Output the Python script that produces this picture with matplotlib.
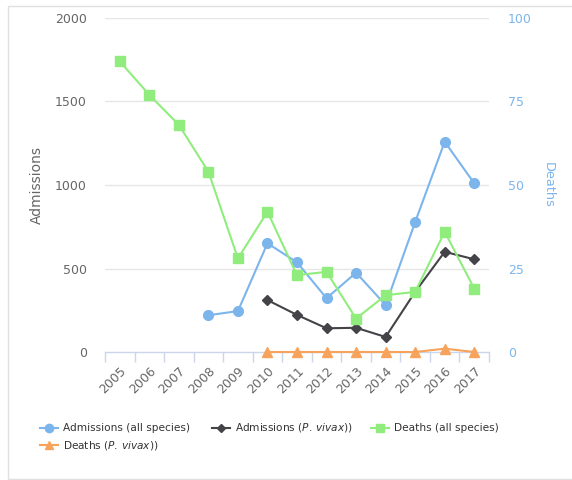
import matplotlib
matplotlib.use("Agg")
import matplotlib.pyplot as plt
from matplotlib.lines import Line2D
from matplotlib.patches import Rectangle
import numpy as np

plt.rcParams['font.family'] = ['DejaVu Sans']
plt.rcParams['mathtext.fontset'] = 'custom'
plt.rcParams['mathtext.rm'] = 'DejaVu Sans'
plt.rcParams['mathtext.it'] = 'DejaVu Sans:italic'

years = ['2005', '2006', '2007', '2008', '2009', '2010', '2011', '2012',
         '2013', '2014', '2015', '2016', '2017']
adm_all = [None, None, None, 220, 245, 651, 537, 322, 475, 281, 778, 1259, 1010]
adm_vivax = [None, None, None, None, None, 311, 222, 142, 145, 90, 360, 600, 555]
deaths_all = [87, 77, 68, 54, 28, 42, 23, 24, 10, 17, 18, 36, 19]
deaths_vivax = [None, None, None, None, None, 0, 0, 0, 0, 0, 0, 1, 0]

left_ticks = [0, 500, 1000, 1500, 2000]
right_ticks = [0, 25, 50, 75, 100]

C_BLUE = '#7cb5ec'
C_BLACK = '#434348'
C_GREEN = '#90ed7d'
C_ORANGE = '#f7a35c'
TXT = '#666666'

def arr(v):
    return np.array([np.nan if x is None else x for x in v], dtype=float)

W, H = 572, 480
fig = plt.figure(figsize=(W / 100, H / 100), dpi=100)
L, R, T, B = 105, 489, 18, 352
ax = fig.add_axes([L / W, 1 - B / H, (R - L) / W, (B - T) / H])
ax2 = ax.twinx()

x = np.arange(len(years))
lw = 1.5
ax.plot(x, arr(adm_all), color=C_BLUE, lw=lw, marker='o', ms=7, zorder=3, clip_on=False)
ax.plot(x, arr(adm_vivax), color=C_BLACK, lw=lw, marker='D', ms=5, zorder=4, clip_on=False)
ax2.plot(x, arr(deaths_all), color=C_GREEN, lw=lw, marker='s', ms=7, zorder=3, clip_on=False)
ax2.plot(x, arr(deaths_vivax), color=C_ORANGE, lw=lw, marker='^', ms=7, zorder=4, clip_on=False)

ax.set_xlim(-0.5, len(years) - 0.5)
ax.set_ylim(0, 2000)
ax2.set_ylim(0, 100)
ax.set_yticks(left_ticks)
ax2.set_yticks(right_ticks)
ax.set_yticklabels([str(t) for t in left_ticks], color=TXT, fontsize=9)
ax2.set_yticklabels([str(t) for t in right_ticks], color=C_BLUE, fontsize=9)
ax.tick_params(axis='y', length=0, pad=13)
ax2.tick_params(axis='y', length=0, pad=13.5)

for t in left_ticks[1:]:
    ax.axhline(t, color='#e6e6e6', lw=1, zorder=0)

for a in (ax, ax2):
    for s in a.spines.values():
        s.set_visible(False)
ax.spines['bottom'].set_visible(True)
ax.spines['bottom'].set_color('#ccd6eb')
ax.spines['bottom'].set_linewidth(1)

ax.set_xticks(x)
ax.set_xticklabels(years, rotation=45, ha='right', va='top',
                   rotation_mode='anchor', color=TXT, fontsize=9)
ax.set_xticks(np.arange(-0.5, len(years)), minor=True)
ax.tick_params(axis='x', which='major', length=0, pad=9)
ax.tick_params(axis='x', which='minor', length=7, color='#ccd6eb', width=1)

fig.text(37 / W, 1 - 185 / H, 'Admissions', rotation=90, ha='center', va='center',
         color=TXT, fontsize=10)
fig.text(548 / W, 1 - 184.5 / H, 'Deaths', rotation=270, ha='center', va='center',
         color=C_BLUE, fontsize=9.3)

# legend
items = [
    (C_BLUE, 'o', 6, 'Admissions (all species)', 40, 428),
    (C_BLACK, 'D', 4.5, r'Admissions ($\mathit{P.\,vivax}$))', 212, 428),
    (C_GREEN, 's', 6, 'Deaths (all species)', 371, 428),
    (C_ORANGE, '^', 6, r'Deaths ($\mathit{P.\,vivax}$))', 40, 445),
]
for col, mk, ms, lab, px, py in items:
    yy = 1 - py / H
    fig.add_artist(Line2D([px / W, (px + 18) / W], [yy, yy], color=col, lw=1.5,
                          transform=fig.transFigure))
    fig.add_artist(Line2D([(px + 9) / W], [yy], color=col, marker=mk, ms=ms,
                          transform=fig.transFigure))
    fig.text((px + 23) / W, yy, lab, ha='left', va='center', color='#333333',
             fontsize=7.6)

fig.add_artist(Rectangle((8 / W, 1 / H), (W - 8) / W + 0.01, (H - 6.5) / H,
                         transform=fig.transFigure, fill=False,
                         edgecolor='#e0e0e0', lw=1))

fig.savefig('out.png', dpi=100)
